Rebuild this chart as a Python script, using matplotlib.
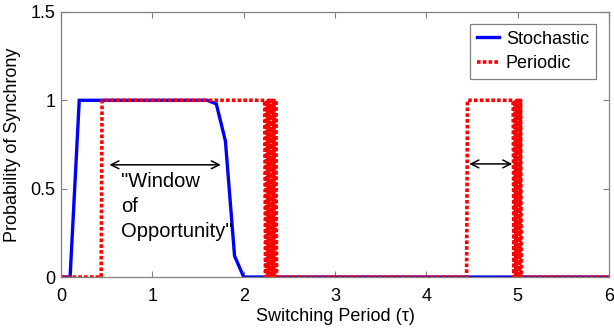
import matplotlib
matplotlib.use("Agg")
import matplotlib.pyplot as plt

plt.rcParams['font.family'] = ['Liberation Sans', 'DejaVu Sans']

# Stochastic switching
stoch_tau = [0.0, 0.1, 0.2, 0.3, 1.6, 1.7, 1.8, 1.9, 2.0, 6.0]
stoch_prob = [0.0, 0.0, 1.0, 1.0, 1.0, 0.98, 0.77, 0.12, 0.0, 0.0]

# Periodic switching
periodic_tau = [0.0, 0.44, 0.45, 2.23, 2.24, 2.25, 2.26, 2.27, 2.28, 2.29, 2.30,
                2.31, 2.32, 2.33, 2.34, 2.35, 2.36, 4.44, 4.45, 4.95, 4.96,
                4.97, 4.98, 4.99, 5.00, 5.01, 5.02, 5.03, 5.04, 6.0]
periodic_prob = [0.0, 0.0, 1.0, 1.0, 0.0, 1.0, 0.0, 1.0, 0.0, 1.0, 0.0,
                 1.0, 0.0, 1.0, 0.0, 1.0, 0.0, 0.0, 1.0, 1.0, 0.0,
                 1.0, 0.0, 1.0, 0.0, 1.0, 0.0, 1.0, 0.0, 0.0]

x_ticks = [0, 1, 2, 3, 4, 5, 6]
y_ticks = [0, 0.5, 1, 1.5]
y_tick_labels = ['0', '0.5', '1', '1.5']

fig = plt.figure(figsize=(6.14, 3.31), dpi=100)
ax = fig.add_axes([0.0993, 0.163, 0.8927, 0.801])

ax.plot(stoch_tau, stoch_prob, color='#0000ff', lw=2.4, label='Stochastic',
        solid_joinstyle='miter')
ax.plot(periodic_tau, periodic_prob, color='#ff0000', lw=2.6, linestyle=(0, (1.0, 0.6)),
        label='Periodic')

ax.set_xlim(0, 6)
ax.set_ylim(0, 1.5)
ax.set_xticks(x_ticks)
ax.set_yticks(y_ticks)
ax.set_yticklabels(y_tick_labels)
ax.tick_params(direction='in', top=True, right=True, length=4, width=0.8,
               color='#808080', labelsize=13, pad=4)
ax.tick_params(axis='x', pad=8)
for s in ax.spines.values():
    s.set_color('#808080')
    s.set_linewidth(0.9)

ax.set_xlabel('Switching Period (τ)', fontsize=13, labelpad=2)
ax.set_ylabel('Probability of Synchrony', fontsize=13, labelpad=7)

ax.annotate('', xy=(0.53, 0.635), xytext=(1.75, 0.635),
            arrowprops=dict(arrowstyle='<->', color='black', lw=1.1,
                            shrinkA=0, shrinkB=0, mutation_scale=14))
ax.annotate('', xy=(4.47, 0.64), xytext=(4.94, 0.64),
            arrowprops=dict(arrowstyle='<->', color='black', lw=1.1,
                            shrinkA=0, shrinkB=0, mutation_scale=14))
ax.text(0.66, 0.595, '"Window\nof\nOpportunity"', fontsize=14.5, va='top', ha='left',
        linespacing=1.4)

leg = ax.legend(loc='upper right', fontsize=13, handlelength=1.2, handletextpad=0.4,
                fancybox=False, framealpha=1, borderpad=0.4, labelspacing=0.4,
                bbox_to_anchor=(0.993, 0.99))
leg.get_frame().set_edgecolor('#808080')
leg.get_frame().set_linewidth(0.9)

fig.savefig('out.png', dpi=100)
